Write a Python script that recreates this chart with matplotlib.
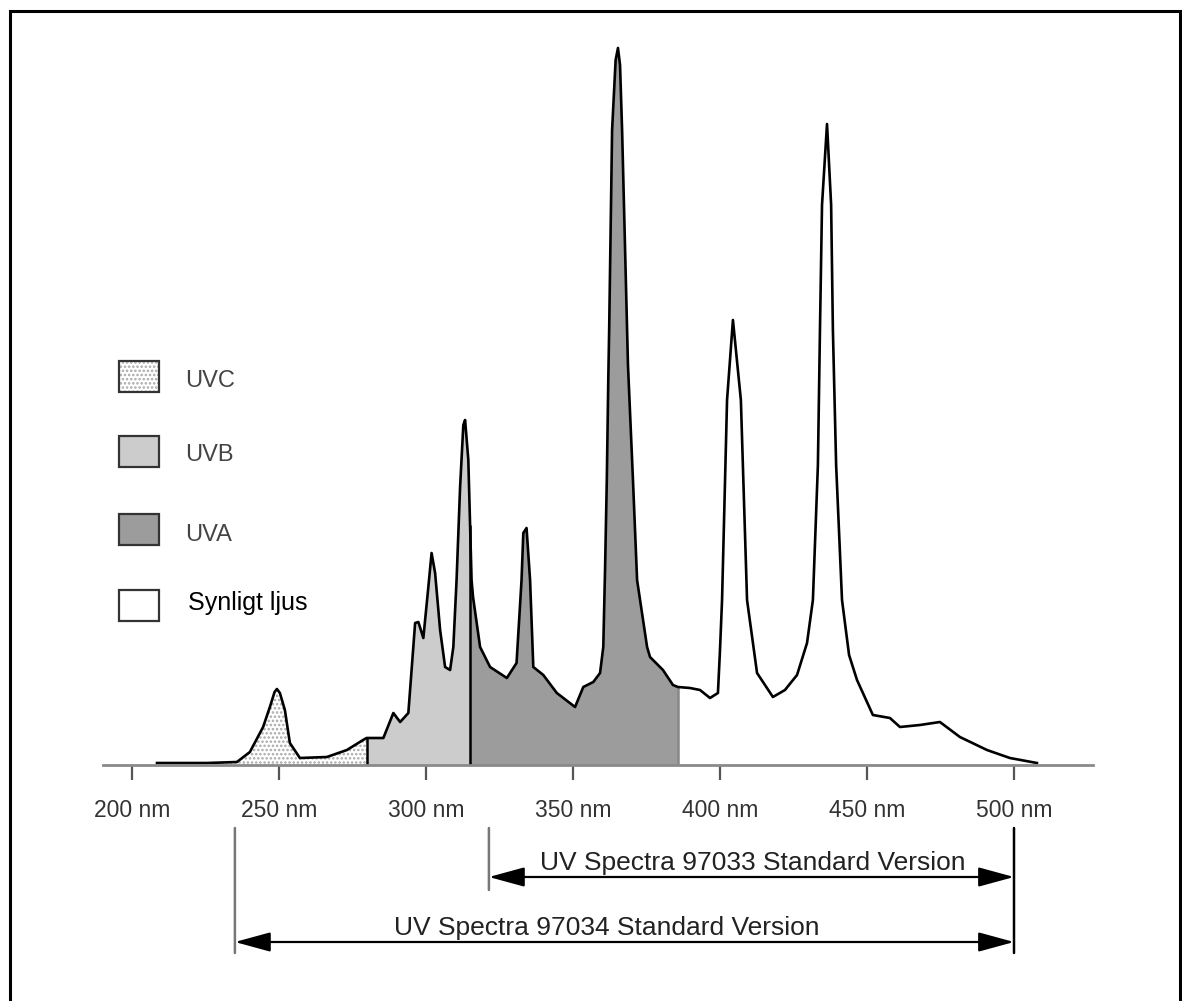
import matplotlib
matplotlib.use('Agg')
import matplotlib.pyplot as plt
from matplotlib.patches import Rectangle
import numpy as np

plt.rcParams['font.family'] = ['Liberation Sans', 'DejaVu Sans']
plt.rcParams['hatch.linewidth'] = 1.2

# spectrum: wavelength (nm) and relative intensity
wl = [208.5, 225.5, 235.7, 240.1, 244.6, 246.9, 248.5, 249.3, 250.3, 252.0,
      253.7, 257.1, 266.3, 273.1, 278.6, 279.8, 285.5, 288.9, 291.2, 294.0,
      295.1, 296.3, 297.4, 299.1, 300.8, 301.9, 303.1, 304.8, 306.5, 308.2,
      309.3, 310.4, 311.6, 312.7, 313.3, 314.4, 315.5, 316.0, 318.4, 321.8,
      327.5, 330.8, 332.5, 333.1, 334.2, 335.4, 336.5, 339.9, 344.5, 350.7,
      353.5, 356.9, 359.2, 360.3, 360.9, 361.5, 362.0, 362.3, 363.3, 364.5,
      365.3, 366.0, 366.7, 368.7, 370.4, 371.8, 375.2, 376.2, 380.6, 384.0,
      385.7, 389.8, 393.2, 396.6, 399.3, 400.0, 400.7, 402.4, 404.4, 407.1,
      409.2, 412.6, 418.0, 422.1, 426.2, 429.6, 431.6, 433.3, 434.0, 434.7,
      436.4, 437.8, 438.4, 439.5, 441.5, 443.9, 446.6, 452.0, 457.8, 461.2,
      468.0, 474.8, 481.6, 490.8, 498.6, 507.8]
intensity = [2, 2, 3, 13, 38, 58, 73, 76, 72, 55,
             22, 7, 8, 15, 25, 27, 27, 52, 43, 52,
             95, 142, 143, 127, 178, 212, 192, 135, 98, 95,
             118, 185, 278, 340, 345, 305, 185, 168, 118, 98,
             87, 102, 185, 232, 237, 185, 98, 90, 72, 58,
             78, 83, 92, 118, 195, 285, 385, 435, 635, 705,
             717, 700, 635, 400, 285, 185, 118, 108, 95, 80,
             78, 77, 75, 67, 72, 115, 165, 365, 445, 365,
             165, 92, 68, 75, 90, 122, 165, 300, 435, 560,
             641, 560, 435, 300, 165, 110, 85, 50, 47, 38,
             40, 43, 28, 15, 7, 2]

# band limits (nm) and their looks
band_names = ['UVC', 'UVB', 'UVA', 'Synligt ljus']
band_edges = [200, 280, 315, 385.7, 520]
band_colors = ['white', '#cccccc', '#9c9c9c', 'white']

tick_nm = [200, 250, 300, 350, 400, 450, 500]
tick_labels = ['200 nm', '250 nm', '300 nm', '350 nm', '400 nm', '450 nm', '500 nm']

# product ranges: (label, start nm, end nm)
products = [('UV Spectra 97033 Standard Version', 321.4, 500),
            ('UV Spectra 97034 Standard Version', 235.0, 500)]
label_x = [411.0, 361.6]

W, H = 1182, 1001
fig = plt.figure(figsize=(W / 100, H / 100), dpi=100)
ax = fig.add_axes([103 / W, (H - 765) / H, 990 / W, 725 / H])

x = np.array(wl)
y = np.array(intensity)

for i in range(4):
    a, b = band_edges[i], band_edges[i + 1]
    inside = (x > a) & (x < b)
    xs = np.concatenate([[max(a, x[0])], x[inside], [min(b, x[-1])]])
    ys = np.interp(xs, x, y)
    if i == 0:
        ax.fill_between(xs, ys, facecolor='white', hatch='....',
                        edgecolor='#a8a8a8', linewidth=0)
    else:
        ax.fill_between(xs, ys, color=band_colors[i], linewidth=0)

# band borders
for edge, col in [(280, 'black'), (315, 'black'), (385.7, '#888888')]:
    ax.vlines(edge, 0, np.interp(edge, x, y), color=col, lw=1.8)

ax.plot(x, y, color='black', lw=1.9, clip_on=False, solid_joinstyle='round')

ax.set_xlim(190.14, 526.87)
ax.set_ylim(0, 725)
for s in ['top', 'right', 'left']:
    ax.spines[s].set_visible(False)
ax.spines['bottom'].set_color('#8a8a8a')
ax.spines['bottom'].set_linewidth(2)
ax.set_yticks([])
ax.set_xticks(tick_nm)
ax.set_xticklabels(tick_labels, fontsize=16.5, color='#333333')
ax.tick_params(axis='x', direction='out', length=10.5, width=1.6,
               color='#555555', pad=14)

# range bars under the axis
fp = ('data', 'figure pixels')
bars_y = [H - 877, H - 942]
text_y = [H - 870, H - 935]
line_bottom = [H - 890, H - 953]
for (name, a, b), tx, yb, yt, ylow in zip(products, label_x, bars_y, text_y, line_bottom):
    ax.annotate('', xy=(a, H - 828), xytext=(a, ylow), xycoords=fp, textcoords=fp,
                arrowprops=dict(arrowstyle='-', color='#777777', lw=1.8,
                                shrinkA=0, shrinkB=0))
    ax.annotate('', xy=(a, yb), xytext=(b, yb), xycoords=fp, textcoords=fp,
                arrowprops=dict(arrowstyle='<|-|>,head_length=1.1,head_width=0.3',
                                mutation_scale=20, color='black', lw=1.6,
                                shrinkA=0, shrinkB=0))
    ax.annotate(name, xy=(tx, yt), xycoords=fp, ha='center',
                va='baseline', fontsize=19, color='#222222')
ax.annotate('', xy=(500, H - 828), xytext=(500, H - 953), xycoords=fp, textcoords=fp,
            arrowprops=dict(arrowstyle='-', color='black', lw=1.8,
                            shrinkA=0, shrinkB=0))

# legend boxes
box_top = [361, 436, 514, 590]
text_base = [387, 461, 541, 610]
for i, name in enumerate(band_names):
    if i == 0:
        r = Rectangle((119 / W, (H - box_top[i] - 31) / H), 40 / W, 31 / H,
                      transform=fig.transFigure, facecolor='white', hatch='....',
                      edgecolor='#a8a8a8', lw=0)
        fig.add_artist(r)
    r = Rectangle((119 / W, (H - box_top[i] - 31) / H), 40 / W, 31 / H,
                  transform=fig.transFigure, facecolor='none' if i == 0 else band_colors[i],
                  edgecolor='#333333', lw=1.6)
    fig.add_artist(r)
    fig.text((185 if i < 3 else 188) / W, (H - text_base[i]) / H, name,
             fontsize=17 if i < 3 else 18, va='baseline',
             color='#444444' if i < 3 else 'black')

# outer frame
fig.add_artist(Rectangle((9.7 / W, -0.02), (1179.5 - 9.7) / W, (H - 10.7) / H + 0.02,
                         transform=fig.transFigure, fill=False, lw=2.2, ec='black'))

plt.savefig('out.png', dpi=100)
